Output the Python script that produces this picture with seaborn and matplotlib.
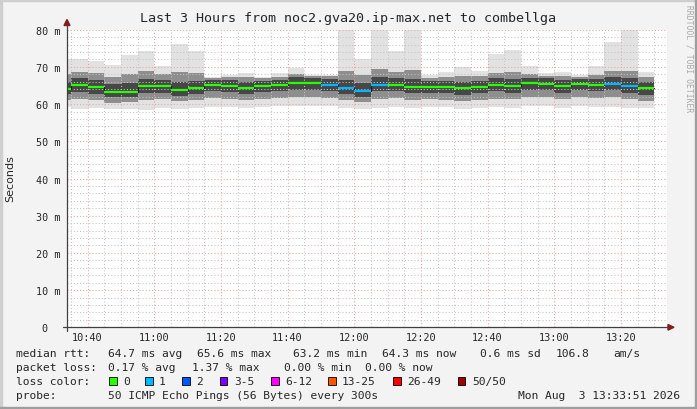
import numpy as np
import pandas as pd
import matplotlib
matplotlib.use("Agg")
import matplotlib.pyplot as plt
from matplotlib.lines import Line2D
from matplotlib.patches import Polygon, Rectangle
import seaborn as sns

# 5 minute bins (start time), smokeping style
bin_start = ["10:30", "10:35", "10:40", "10:45", "10:50", "10:55",
             "11:00", "11:05", "11:10", "11:15", "11:20", "11:25",
             "11:30", "11:35", "11:40", "11:45", "11:50", "11:55",
             "12:00", "12:05", "12:10", "12:15", "12:20", "12:25",
             "12:30", "12:35", "12:40", "12:45", "12:50", "12:55",
             "13:00", "13:05", "13:10", "13:15", "13:20", "13:25"]
median = [64.1, 65.1, 64.6, 63.3, 63.2, 64.9, 64.9, 63.9, 64.2, 65.2, 64.9, 64.4,
          64.9, 65.2, 65.6, 65.6, 65.2, 64.4, 63.6, 65.2, 65.2, 64.7, 64.7, 64.7,
          64.2, 64.7, 65.2, 64.9, 65.6, 65.5, 64.9, 65.5, 65.2, 65.5, 64.9, 64.3]
ping_hi = [72.0, 72.2, 71.7, 70.5, 73.2, 74.3, 70.2, 76.1, 74.3, 67.4, 67.8, 68.3,
           67.4, 68.3, 69.8, 67.8, 67.9, 82.0, 72.0, 82.0, 74.3, 82.0, 67.8, 68.7,
           70.1, 68.9, 73.4, 74.5, 70.3, 68.3, 68.7, 67.8, 70.3, 76.8, 82.0, 68.7]
ping_p90 = [68.0, 68.6, 68.3, 67.2, 68.0, 68.8, 68.2, 68.5, 68.3, 67.0, 67.2, 67.4,
            66.9, 67.4, 68.2, 67.5, 67.5, 68.8, 67.8, 69.5, 68.6, 69.2, 67.0, 67.4,
            67.5, 67.5, 68.4, 68.5, 68.0, 67.6, 67.6, 67.3, 67.9, 68.9, 69.0, 67.4]
ping_p75 = [66.0, 67.0, 66.6, 65.4, 65.6, 66.8, 66.6, 66.0, 66.2, 66.4, 66.4, 66.0,
            66.3, 66.6, 67.2, 67.0, 66.7, 66.4, 65.6, 67.2, 67.0, 66.8, 66.2, 66.3,
            65.9, 66.3, 66.9, 66.7, 67.1, 66.9, 66.5, 66.8, 66.8, 67.4, 67.0, 66.0]
ping_p25 = [62.6, 63.2, 62.8, 61.9, 62.0, 63.0, 63.1, 62.3, 62.6, 63.4, 63.2, 62.8,
            63.2, 63.5, 63.8, 63.9, 63.5, 62.8, 62.0, 63.4, 63.5, 63.0, 63.0, 63.0,
            62.5, 63.0, 63.4, 63.1, 63.9, 63.8, 63.1, 63.8, 63.4, 63.7, 63.1, 62.5]
ping_p10 = [61.0, 61.4, 61.0, 60.4, 60.6, 61.2, 61.3, 60.8, 61.0, 61.6, 61.4, 61.2,
            61.5, 61.7, 62.0, 62.0, 61.7, 61.0, 60.6, 61.5, 61.6, 61.2, 61.3, 61.2,
            60.9, 61.2, 61.5, 61.3, 62.0, 61.9, 61.3, 61.9, 61.6, 61.8, 61.4, 60.9]
ping_lo = [59.3, 58.8, 58.9, 58.6, 58.7, 58.5, 59.0, 58.8, 59.0, 59.2, 59.1, 59.0,
           59.3, 59.4, 59.5, 59.6, 59.4, 58.9, 58.7, 59.0, 59.2, 59.0, 59.2, 59.1,
           58.8, 59.0, 59.2, 59.0, 59.5, 59.4, 58.9, 59.4, 59.2, 59.2, 59.0, 58.9]
loss = [0, 0, 0, 0, 0, 0, 0, 0, 0, 0, 0, 0, 0, 0, 0, 0, 1, 1,
        1, 1, 0, 0, 0, 0, 0, 0, 0, 0, 0, 0, 0, 0, 0, 1, 1, 0]

x_ticks = ["10:40", "11:00", "11:20", "11:40", "12:00", "12:20", "12:40", "13:00", "13:20"]
y_ticks = [0, 10, 20, 30, 40, 50, 60, 70, 80]
y_labels = ["0  ", "10 m", "20 m", "30 m", "40 m", "50 m", "60 m", "70 m", "80 m"]

loss_colors = ["#26ff00", "#00b8ff", "#0059ff", "#7e00ff", "#ff00ff", "#ff5500", "#ff0000", "#a10000"]
loss_names = ["0", "1", "2", "3-5", "6-12", "13-25", "26-49", "50/50"]


def minutes(t):
    h, m = t.split(":")
    return int(h) * 60 + int(m) - 600


W, H = 697, 410


def fx(x):
    return x / W


def fy(y):
    return 1 - y / H


sns.set_style("white")
plt.rcParams["font.family"] = ["DejaVu Sans Mono"]

fig = plt.figure(figsize=(W / 100, H / 100), dpi=100, facecolor="#f3f3f3")
ax = fig.add_axes([fx(67), fy(328.3), 600 / W, 297.6 / H])
ax.set_facecolor("white")

starts = np.array([minutes(t) for t in bin_start], dtype=float)
step = 5

# smoke: nested bands, lightest outside
bands = [(ping_lo, ping_hi, "#e2e2e2"),
         (ping_p10, ping_p90, "#8e8e8e"),
         (ping_p25, ping_p75, "#474747")]
for lo, hi, col in bands:
    lo = np.array(lo)
    hi = np.array(hi)
    ax.bar(starts, hi - lo, bottom=lo, width=step, align="edge",
           color=col, linewidth=0, zorder=1)

# black step connecting the medians
step_df = pd.DataFrame({"x": list(starts) + [starts[-1] + step],
                        "y": median + [median[-1]]})
sns.lineplot(data=step_df, x="x", y="y", drawstyle="steps-post", color="#1a1a1a",
             linewidth=0.8, ax=ax, zorder=3, legend=False)

# coloured median per bin
rows = []
for i, s in enumerate(starts):
    rows.append({"x": s, "y": median[i], "bin": i, "loss": loss[i]})
    rows.append({"x": s + step, "y": median[i], "bin": i, "loss": loss[i]})
med_df = pd.DataFrame(rows)
sns.lineplot(data=med_df, x="x", y="y", hue="loss", units="bin", estimator=None,
             palette={0: loss_colors[0], 1: loss_colors[1]}, linewidth=1.6,
             solid_capstyle="butt", ax=ax, zorder=4, legend=False)

ax.set_xlim(33.85, 213.85)
ax.set_ylim(0, 80)
ax.set_xticks([minutes(t) for t in x_ticks])
ax.set_xticklabels(x_ticks)
ax.set_xticks(np.arange(35, 214, 5), minor=True)
ax.set_yticks(y_ticks)
ax.set_yticklabels(y_labels)
ax.set_yticks(np.arange(0, 81, 2), minor=True)
ax.tick_params(which="both", length=0)
ax.tick_params(axis="x", pad=3.5, labelsize=7.4)
ax.tick_params(axis="y", pad=5, labelsize=7.3)
ax.set_xlabel("")
ax.set_ylabel("")
ax.set_axisbelow(False)
ax.grid(which="minor", color="#c4c4c4", linestyle=(0, (1, 2)), linewidth=0.75)
ax.grid(which="major", color="#eba3a3", linestyle=(0, (1, 2)), linewidth=0.75)
for sp in ax.spines.values():
    sp.set_visible(False)

# axis lines with arrows
fig.add_artist(Line2D([fx(67), fx(67)], [fy(332), fy(26)], color="#404040", lw=0.9))
fig.add_artist(Line2D([fx(63), fx(668)], [fy(328.3), fy(328.3)], color="#404040", lw=0.9))
fig.add_artist(Polygon([[fx(64), fy(26.5)], [fx(70), fy(26.5)], [fx(67), fy(20.5)]],
                       closed=True, color="#8b1a1a", transform=fig.transFigure))
fig.add_artist(Polygon([[fx(668), fy(325.5)], [fx(668), fy(331.1)], [fx(674), fy(328.3)]],
                       closed=True, color="#8b1a1a", transform=fig.transFigure))

# frame shading
fig.add_artist(Rectangle((0, fy(2)), 1, 2 / H, color="#cfcfcf", transform=fig.transFigure))
fig.add_artist(Rectangle((0, 0), 2 / W, 1, color="#cfcfcf", transform=fig.transFigure))
fig.add_artist(Rectangle((0, 0), 1, 2 / H, color="#9e9e9e", transform=fig.transFigure))
fig.add_artist(Rectangle((fx(695), 0), 2 / W, 1, color="#9e9e9e", transform=fig.transFigure))

fig.text(0.5, fy(18.5), "Last 3 Hours from noc2.gva20.ip-max.net to combellga",
         ha="center", va="center", fontsize=9.6)
fig.text(fx(10.5), fy(179), "Seconds", rotation=90, ha="center", va="center",
         fontsize=8, family="DejaVu Sans")
fig.text(fx(689), fy(5), "RRDTOOL / TOBI OETIKER", rotation=-90, ha="center", va="top",
         fontsize=5.8, color="#a8a8a8")

lfs = 8.1
row1 = [(16.4, "median rtt:"), (108, "64.7 ms avg"), (197, "65.6 ms max"),
        (293.3, "63.2 ms min"), (382, "64.3 ms now"), (480, "0.6 ms sd"),
        (555.6, "106.8"), (613.3, "am/s")]
row2 = [(16.4, "packet loss:"), (108, "0.17 % avg"), (192.4, "1.37 % max"),
        (284.4, "0.00 % min"), (365.3, "0.00 % now")]
for x, s in row1:
    fig.text(fx(x), fy(354), s, ha="left", va="center", fontsize=lfs)
for x, s in row2:
    fig.text(fx(x), fy(368.3), s, ha="left", va="center", fontsize=lfs)

fig.text(fx(16.4), fy(381.7), "loss color:", ha="left", va="center", fontsize=lfs)
box_x = [109, 145, 182, 220, 271, 328, 393.3, 457.8]
for bx, col, name in zip(box_x, loss_colors, loss_names):
    fig.add_artist(Rectangle((fx(bx), fy(385.7)), 7.5 / W, 8 / H, facecolor=col,
                             edgecolor="black", linewidth=0.6, transform=fig.transFigure))
    fig.text(fx(bx + 14), fy(381.7), name, ha="left", va="center", fontsize=lfs)

fig.text(fx(16.4), fy(396), "probe:", ha="left", va="center", fontsize=lfs)
fig.text(fx(108), fy(396), "50 ICMP Echo Pings (56 Bytes) every 300s",
         ha="left", va="center", fontsize=lfs)
fig.text(fx(680), fy(396), "Mon Aug  3 13:33:51 2026", ha="right", va="center", fontsize=lfs)

fig.savefig("out.png", dpi=100, facecolor=fig.get_facecolor())
